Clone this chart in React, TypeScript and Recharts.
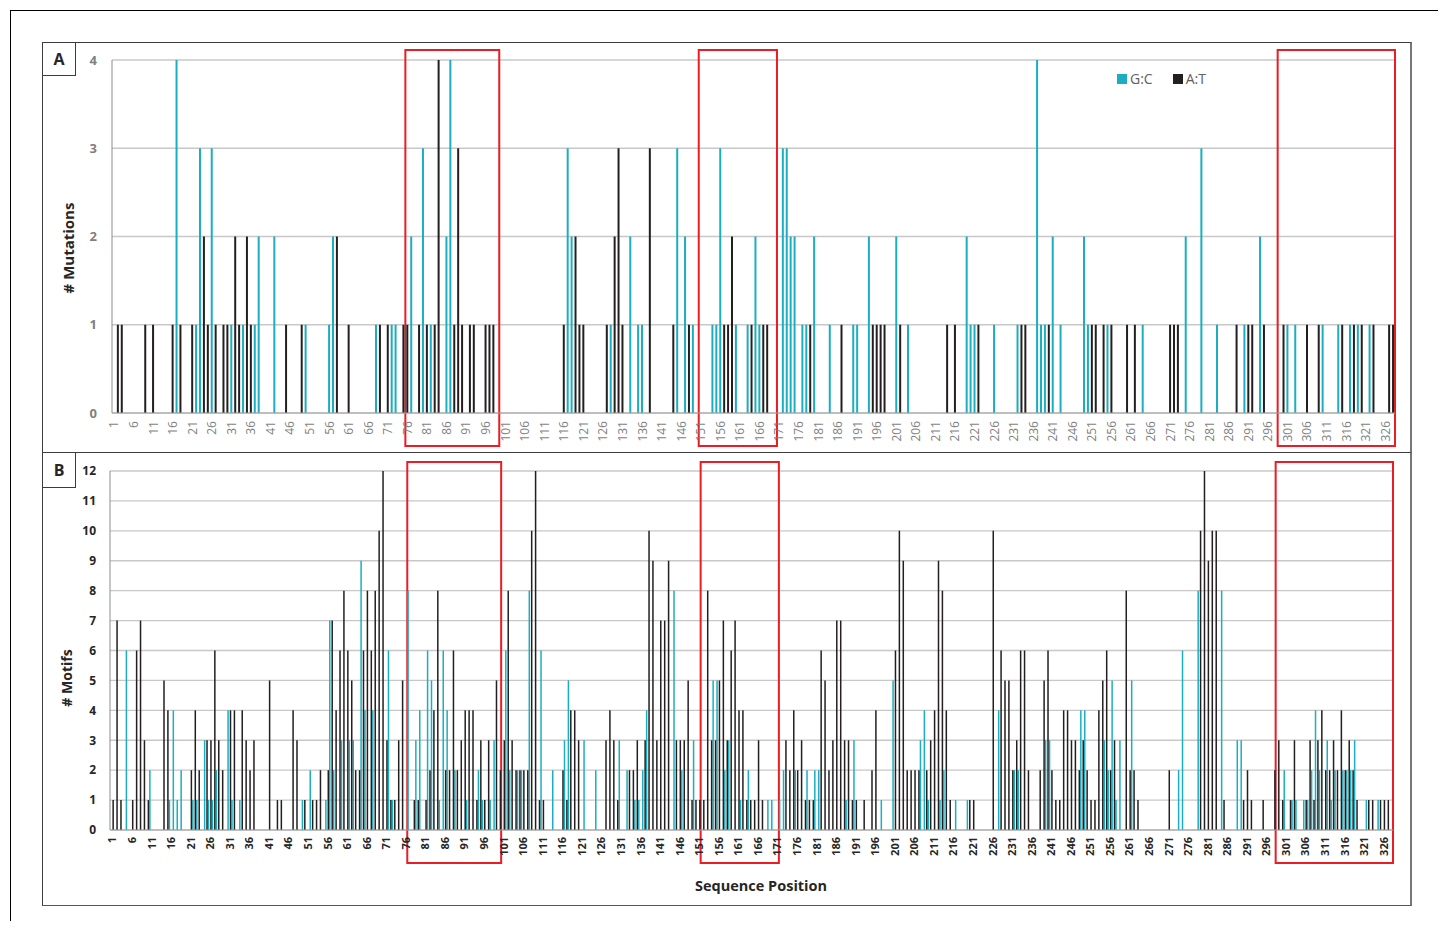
import React from 'react';
import { BarChart, Bar, XAxis, YAxis, CartesianGrid, Legend, ReferenceArea } from 'recharts';

// sequence positions (categories)
const positions = Array.from({ length: 328 }, (_, i) => i + 1);

const positionTicks = [
  1, 6, 11, 16, 21, 26, 31, 36, 41, 46, 51, 56, 61, 66, 71, 76, 81, 86, 91, 96,
  101, 106, 111, 116, 121, 126, 131, 136, 141, 146, 151, 156, 161, 166, 171, 176,
  181, 186, 191, 196, 201, 206, 211, 216, 221, 226, 231, 236, 241, 246, 251, 256,
  261, 266, 271, 276, 281, 286, 291, 296, 301, 306, 311, 316, 321, 326,
];
const mutationTicks = [0, 1, 2, 3, 4];
const motifTicks = [0, 1, 2, 3, 4, 5, 6, 7, 8, 9, 10, 11, 12];

// panel A: # mutations, [position, count]
const mutationsGC: [number, number][] = [
  [17, 4], [22, 1], [23, 3], [26, 3], [31, 1], [34, 1], [37, 1], [38, 2], [42, 2], [50, 1],
  [56, 1], [57, 2], [68, 1], [72, 1], [73, 1], [77, 2], [80, 3], [82, 1], [86, 2], [87, 4],
  [117, 3], [118, 2], [128, 1], [133, 2], [135, 1], [136, 1], [145, 3], [147, 2], [149, 1],
  [154, 1], [155, 1], [156, 3], [160, 1], [163, 1], [165, 2], [166, 1], [172, 3], [173, 3],
  [174, 2], [175, 2], [177, 1], [178, 1], [180, 2], [184, 1], [190, 1], [191, 1], [194, 2],
  [201, 2], [204, 1], [219, 2], [220, 1], [221, 1], [226, 1], [232, 1], [237, 4], [238, 1],
  [239, 1], [241, 2], [243, 1], [249, 2], [250, 1], [255, 1], [264, 1], [275, 2], [279, 3],
  [283, 1], [290, 1], [294, 2], [301, 1], [303, 1], [310, 1], [314, 1], [317, 1], [319, 1],
  [322, 1],
];
const mutationsAT: [number, number][] = [
  [2, 1], [3, 1], [9, 1], [11, 1], [16, 1], [18, 1], [21, 1], [24, 2], [25, 1], [27, 1],
  [29, 1], [30, 1], [32, 2], [33, 1], [35, 2], [36, 1], [45, 1], [49, 1], [58, 2], [61, 1],
  [69, 1], [71, 1], [75, 1], [76, 1], [79, 1], [81, 1], [83, 1], [84, 4], [88, 1], [89, 3],
  [90, 1], [92, 1], [93, 1], [96, 1], [97, 1], [98, 1], [116, 1], [119, 2], [120, 1],
  [121, 1], [127, 1], [129, 2], [130, 3], [131, 1], [138, 3], [144, 1], [148, 1], [157, 1],
  [158, 1], [159, 2], [164, 1], [167, 1], [168, 1], [179, 1], [187, 1], [195, 1], [196, 1],
  [197, 1], [198, 1], [202, 1], [214, 1], [216, 1], [222, 1], [233, 1], [234, 1], [240, 1],
  [251, 1], [252, 1], [254, 1], [256, 1], [260, 1], [262, 1], [271, 1], [272, 1], [273, 1],
  [288, 1], [291, 1], [292, 1], [295, 1], [300, 1], [306, 1], [309, 1], [315, 1], [318, 1],
  [320, 1], [323, 1], [327, 1], [328, 1],
];

// panel B: # motifs, [position, count]
const motifsGC: [number, number][] = [
  [5, 6], [11, 2], [16, 1], [17, 4], [18, 1], [19, 2], [22, 1], [23, 1], [25, 3], [26, 1],
  [27, 1], [28, 2], [31, 4], [32, 1], [34, 1], [50, 1], [52, 2], [56, 1], [57, 7], [58, 2],
  [60, 3], [62, 3], [63, 3], [65, 9], [66, 4], [68, 4], [72, 6], [73, 1], [77, 8], [79, 3],
  [80, 4], [82, 6], [83, 5], [85, 1], [86, 6], [87, 4], [89, 2], [92, 1], [95, 2], [96, 1],
  [98, 1], [99, 3], [102, 6], [103, 2], [105, 2], [106, 2], [108, 8], [111, 6], [114, 2],
  [117, 3], [118, 5], [122, 3], [125, 2], [131, 3], [133, 2], [135, 1], [136, 1], [137, 2],
  [138, 4], [145, 8], [147, 2], [150, 3], [155, 5], [156, 5], [158, 2], [159, 3], [162, 1],
  [164, 2], [169, 1], [170, 1], [172, 1], [173, 2], [176, 2], [179, 2], [181, 2], [182, 2],
  [189, 1], [191, 3], [198, 1], [201, 5], [208, 3], [209, 4], [210, 1], [213, 1], [214, 2],
  [217, 1], [220, 1], [228, 4], [232, 2], [233, 2], [240, 3], [241, 3], [249, 4], [250, 4],
  [255, 3], [256, 2], [257, 5], [258, 1], [259, 3], [262, 5], [274, 2], [275, 6], [279, 8],
  [285, 8], [289, 3], [290, 3], [301, 2], [303, 1], [304, 1], [306, 1], [307, 1], [308, 2],
  [309, 4], [310, 2], [312, 3], [313, 1], [314, 2], [316, 2], [317, 2], [318, 2], [319, 3],
  [322, 1], [325, 1],
];
const motifsAT: [number, number][] = [
  [1, 1], [2, 7], [3, 1], [6, 1], [7, 6], [8, 7], [9, 3], [10, 1], [14, 5], [15, 4], [21, 2],
  [22, 4], [23, 2], [25, 3], [26, 3], [27, 6], [28, 3], [29, 2], [31, 4], [32, 4], [34, 4],
  [35, 3], [36, 2], [37, 3], [41, 5], [43, 1], [44, 1], [47, 4], [48, 3], [50, 1], [52, 1],
  [53, 1], [54, 2], [56, 2], [57, 7], [58, 4], [59, 6], [60, 8], [61, 6], [62, 5], [63, 2],
  [64, 2], [65, 6], [66, 8], [67, 6], [68, 8], [69, 10], [70, 12], [71, 3], [72, 1], [73, 1],
  [74, 3], [75, 5], [78, 1], [79, 1], [81, 1], [82, 2], [83, 4], [84, 8], [86, 2], [87, 2],
  [88, 6], [89, 2], [90, 3], [91, 4], [92, 4], [93, 4], [94, 1], [95, 3], [96, 1], [97, 3],
  [99, 5], [100, 2], [101, 3], [102, 8], [103, 3], [104, 2], [105, 2], [106, 2], [107, 2],
  [108, 10], [109, 12], [110, 1], [111, 1], [116, 2], [117, 1], [118, 4], [119, 4], [120, 3],
  [127, 3], [128, 4], [129, 3], [130, 1], [133, 2], [134, 2], [135, 3], [137, 3], [138, 10],
  [139, 9], [140, 3], [141, 7], [142, 7], [143, 9], [145, 3], [146, 3], [147, 3], [148, 5],
  [149, 1], [150, 1], [151, 1], [152, 1], [153, 8], [154, 3], [155, 3], [156, 5], [157, 7],
  [158, 3], [159, 6], [160, 7], [161, 4], [162, 4], [163, 1], [164, 1], [165, 1], [166, 3],
  [167, 1], [173, 3], [174, 2], [175, 4], [176, 2], [177, 3], [178, 1], [179, 1], [180, 1],
  [182, 6], [183, 5], [184, 2], [185, 3], [186, 7], [187, 7], [188, 3], [189, 3], [190, 1],
  [191, 1], [193, 1], [195, 2], [196, 4], [201, 6], [202, 10], [203, 9], [204, 2], [205, 2],
  [206, 2], [207, 2], [209, 2], [210, 3], [211, 4], [212, 9], [213, 8], [214, 4], [215, 1],
  [220, 1], [221, 1], [226, 10], [228, 6], [229, 5], [230, 5], [231, 2], [232, 3], [233, 6],
  [234, 6], [235, 2], [238, 2], [239, 5], [240, 6], [241, 2], [242, 1], [243, 1], [244, 4],
  [245, 4], [246, 3], [247, 3], [248, 2], [249, 3], [250, 2], [251, 1], [252, 1], [253, 4],
  [254, 5], [255, 6], [256, 2], [257, 3], [260, 8], [261, 2], [262, 2], [263, 1], [271, 2],
  [279, 10], [280, 12], [281, 9], [282, 10], [283, 10], [285, 1], [290, 1], [291, 2],
  [292, 1], [295, 1], [298, 2], [299, 3], [300, 1], [302, 1], [303, 3], [306, 1], [307, 3],
  [308, 1], [309, 3], [310, 4], [311, 2], [312, 2], [313, 3], [314, 2], [315, 4], [316, 2],
  [317, 3], [318, 2], [319, 1], [322, 1], [323, 1], [325, 1], [326, 1], [327, 1],
];

// highlighted position ranges (red boxes)
const boxesA: [number, number][] = [[76, 99], [151, 170], [299, 328]];
const boxesB: [number, number][] = [[77, 100], [152, 171], [299, 328]];

const TEAL = '#1aafc0';
const BLACK = '#231f20';
const RED = '#ec1c24';
const FONT = "'Open Sans', sans-serif";

const toRows = (gc: [number, number][], at: [number, number][]) => {
  const g = new Map(gc);
  const a = new Map(at);
  return positions.map((p) => ({ pos: p, gc: g.get(p) ?? 0, at: a.get(p) ?? 0 }));
};

const mutationRows = toRows(mutationsGC, mutationsAT);
const motifRows = toRows(motifsGC, motifsAT);

const PositionTick = (props: any) => {
  const { x, y, payload, fill, bold, size } = props;
  return (
    <text
      x={x}
      y={y}
      transform={`rotate(-90 ${x} ${y})`}
      textAnchor="end"
      dominantBaseline="central"
      fill={fill}
      fontSize={size}
      fontWeight={bold ? 700 : 400}
      fontFamily={FONT}
    >
      {payload.value}
    </text>
  );
};

const redBox = (above: number, below: number) => (p: any) => (
  <rect
    x={p.x}
    y={p.y - above}
    width={p.width}
    height={p.height + above + below}
    fill="none"
    stroke={RED}
    strokeWidth={2}
  />
);

const LegendContent = () => (
  <div style={{ display: 'flex', alignItems: 'center', fontSize: 14, color: '#606060', fontFamily: FONT, height: 19 }}>
    <span style={{ width: 10, height: 10, background: TEAL, marginRight: 3, display: 'inline-block' }} />
    <span>G:C</span>
    <span style={{ width: 10, height: 10, background: BLACK, marginLeft: 20, marginRight: 3, display: 'inline-block' }} />
    <span>A:T</span>
  </div>
);

const abs = (s: React.CSSProperties): React.CSSProperties => ({ position: 'absolute', ...s });

export default function App() {
  return (
    <div style={{ position: 'relative', width: 1430, height: 913, fontFamily: FONT, background: '#fff' }}>
      <div style={abs({ left: 2, top: 2, width: 1432, height: 911, borderTop: '1px solid #000', borderLeft: '1px solid #000', borderRight: '1px solid #000', boxSizing: 'border-box' })} />
      <div style={abs({ left: 34, top: 34, width: 1370, height: 411, border: '1.5px solid #3c3c3c', borderRight: '2px solid #777', boxSizing: 'border-box' })} />
      <div style={abs({ left: 34, top: 444, width: 1370, height: 454, border: '1.5px solid #3c3c3c', borderRight: '2px solid #777', borderBottom: '1.5px solid #555', boxSizing: 'border-box' })} />
      <div style={abs({ left: 34, top: 34, width: 34, height: 34, border: '1.5px solid #3c3c3c', boxSizing: 'border-box', display: 'flex', alignItems: 'center', justifyContent: 'center', fontWeight: 700, fontSize: 16, color: '#262626' })}>A</div>
      <div style={abs({ left: 34, top: 444, width: 34, height: 36, border: '1.5px solid #3c3c3c', boxSizing: 'border-box', display: 'flex', alignItems: 'center', justifyContent: 'center', fontWeight: 700, fontSize: 16, color: '#262626' })}>B</div>

      <div style={abs({ left: 0, top: 0 })}>
        <BarChart
          width={1430}
          height={460}
          data={mutationRows}
          margin={{ top: 52, right: 43, left: 64, bottom: 15 }}
          barCategoryGap={0.95}
        >
          <CartesianGrid vertical={false} stroke="#c8c8c8" strokeWidth={1.3} />
          <XAxis
            dataKey="pos"
            ticks={positionTicks}
            interval={0}
            tickLine={false}
            tickSize={0}
            tickMargin={8}
            height={40}
            axisLine={{ stroke: '#a6a6a6' }}
            tick={(p: any) => <PositionTick {...p} fill="#7f7f7f" size={12} />}
          />
          <YAxis
            type="number"
            domain={[0, 4]}
            ticks={mutationTicks}
            width={40}
            tickLine={false}
            tickSize={0}
            tickMargin={15}
            axisLine={{ stroke: '#8c8c8c' }}
            tick={{ fill: '#7f7f7f', fontSize: 13, fontWeight: 700, fontFamily: FONT }}
          />
          <Legend
            layout="horizontal"
            verticalAlign="middle"
            align="center"
            wrapperStyle={{ top: 61, left: 1109, width: 'auto' }}
            content={<LegendContent />}
          />
          <Bar dataKey="gc" name="G:C" stackId="m" fill={TEAL} isAnimationActive={false} />
          <Bar dataKey="at" name="A:T" stackId="m" fill={BLACK} isAnimationActive={false} />
          {boxesA.map(([a, b]) => (
            <ReferenceArea key={a} x1={a} x2={b} ifOverflow="visible" shape={redBox(10, 33)} />
          ))}
        </BarChart>
      </div>

      <div style={abs({ left: 0, top: 452 })}>
        <BarChart
          width={1430}
          height={460}
          data={motifRows}
          margin={{ top: 11, right: 45, left: 62, bottom: 50 }}
          barGap={0.9}
        >
          <CartesianGrid vertical={false} stroke="#c8c8c8" strokeWidth={1.3} />
          <XAxis
            dataKey="pos"
            ticks={positionTicks}
            interval={0}
            tickLine={false}
            tickSize={0}
            tickMargin={7}
            height={40}
            axisLine={{ stroke: '#a6a6a6' }}
            tick={(p: any) => <PositionTick {...p} fill="#262626" bold size={11} />}
          />
          <YAxis
            type="number"
            domain={[0, 12]}
            ticks={motifTicks}
            width={40}
            tickLine={false}
            tickSize={0}
            tickMargin={14}
            axisLine={{ stroke: '#8c8c8c' }}
            tick={{ fill: '#262626', fontSize: 12, fontWeight: 700, fontFamily: FONT }}
          />
          <Bar dataKey="gc" name="G:C" fill={TEAL} barSize={1.5} isAnimationActive={false} />
          <Bar dataKey="at" name="A:T" fill={BLACK} barSize={1.5} isAnimationActive={false} />
          {boxesB.map(([a, b]) => (
            <ReferenceArea key={a} x1={a} x2={b} ifOverflow="visible" shape={redBox(9, 33)} />
          ))}
        </BarChart>
      </div>

      <div style={abs({ left: 60, top: 240, transform: 'translate(-50%, -50%) rotate(-90deg)', fontSize: 15, fontWeight: 700, color: '#262626', whiteSpace: 'nowrap' })}># Mutations</div>
      <div style={abs({ left: 58, top: 670, transform: 'translate(-50%, -50%) rotate(-90deg)', fontSize: 14, fontWeight: 700, color: '#262626', whiteSpace: 'nowrap' })}># Motifs</div>
      <div style={abs({ left: 753, top: 877, transform: 'translate(-50%, -50%)', fontSize: 14.5, fontWeight: 700, color: '#262626', whiteSpace: 'nowrap' })}>Sequence Position</div>
    </div>
  );
}
